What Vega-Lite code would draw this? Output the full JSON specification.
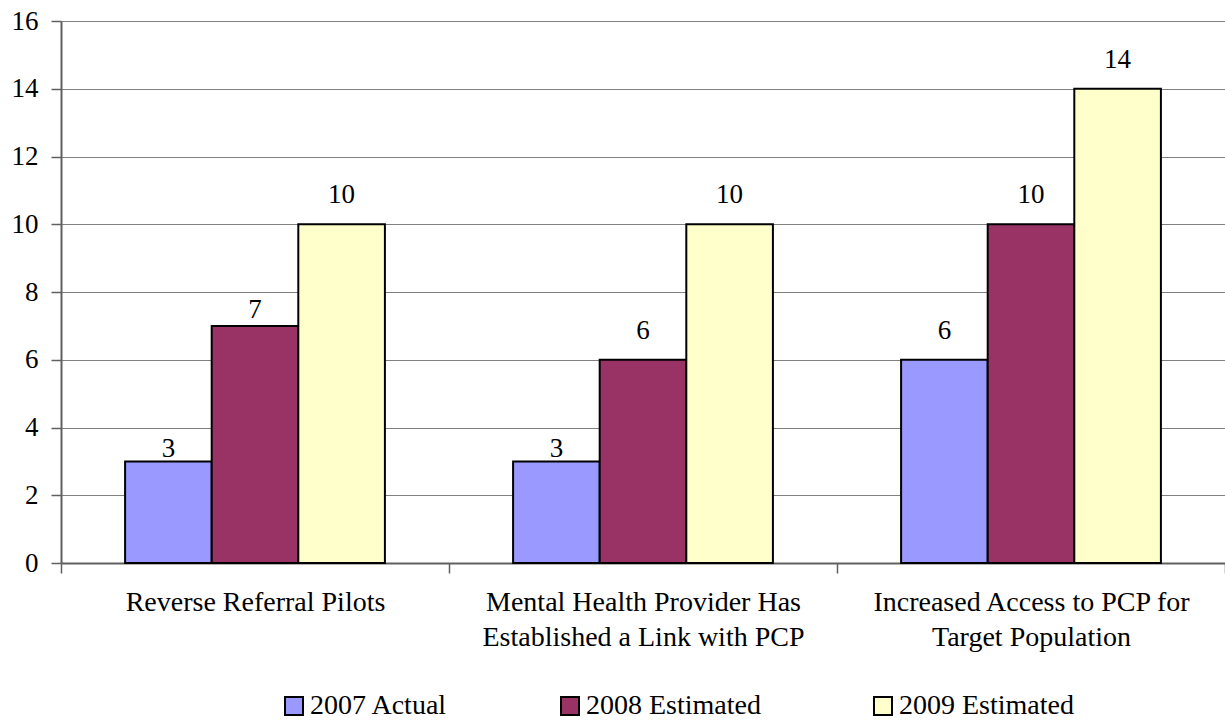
{
  "$schema": "https://vega.github.io/schema/vega-lite/v6.json",
  "autosize": {"type": "none"},
  "width": 1164,
  "height": 542,
  "padding": {"left": 61, "top": 21, "right": 0, "bottom": 158},
  "background": "white",
  "config": {
    "view": {"stroke": null},
    "font": "Liberation Serif",
    "axis": {"labelFont": "Liberation Serif", "labelColor": "black", "labelFontSize": 27},
    "legend": {"labelFont": "Liberation Serif"}
  },
  "data": {
    "values": [
      {"category": "Reverse Referral Pilots", "series": "2007 Actual", "value": 3},
      {"category": "Reverse Referral Pilots", "series": "2008 Estimated", "value": 7},
      {"category": "Reverse Referral Pilots", "series": "2009 Estimated", "value": 10},
      {"category": "Mental Health Provider Has Established a Link with PCP", "series": "2007 Actual", "value": 3},
      {"category": "Mental Health Provider Has Established a Link with PCP", "series": "2008 Estimated", "value": 6},
      {"category": "Mental Health Provider Has Established a Link with PCP", "series": "2009 Estimated", "value": 10},
      {"category": "Increased Access to PCP for Target Population", "series": "2007 Actual", "value": 6},
      {"category": "Increased Access to PCP for Target Population", "series": "2008 Estimated", "value": 10},
      {"category": "Increased Access to PCP for Target Population", "series": "2009 Estimated", "value": 14}
    ]
  },
  "encoding": {
    "x": {
      "field": "category",
      "type": "nominal",
      "sort": null,
      "title": null,
      "scale": {"paddingInner": 0, "paddingOuter": 0},
      "axis": {
        "labelAngle": 0,
        "labelFontSize": 28,
        "tickBand": "extent",
        "tickSize": 10,
        "tickColor": "#606060",
        "tickWidth": 1.5,
        "domainColor": "#606060",
        "domainWidth": 2,
        "labelPadding": 15,
        "labelLineHeight": 35,
        "labelLimit": 600,
        "labelExpr": "datum.value == 'Mental Health Provider Has Established a Link with PCP' ? ['Mental Health Provider Has', 'Established a Link with PCP'] : datum.value == 'Increased Access to PCP for Target Population' ? ['Increased Access to PCP for', 'Target Population'] : datum.value"
      }
    },
    "xOffset": {
      "field": "series",
      "type": "nominal",
      "sort": null,
      "scale": {"paddingInner": 0, "paddingOuter": 0.74}
    },
    "y": {
      "field": "value",
      "type": "quantitative",
      "title": null,
      "scale": {"domain": [0, 16], "nice": false},
      "axis": {
        "values": [0, 2, 4, 6, 8, 10, 12, 14, 16],
        "tickSize": 10,
        "tickColor": "#606060",
        "tickWidth": 1.5,
        "domainColor": "#606060",
        "domainWidth": 2,
        "gridColor": "#808080",
        "gridWidth": 1,
        "labelPadding": 13
      }
    }
  },
  "layer": [
    {
      "mark": {"type": "bar", "stroke": "black", "strokeWidth": 2},
      "encoding": {
        "color": {
          "field": "series",
          "type": "nominal",
          "sort": null,
          "scale": {
            "domain": ["2007 Actual", "2008 Estimated", "2009 Estimated"],
            "range": ["#9999FF", "#993366", "#FFFFCC"]
          },
          "legend": {
            "title": null,
            "orient": "none",
            "legendX": 219,
            "legendY": 671,
            "direction": "horizontal",
            "symbolType": "square",
            "symbolSize": 324,
            "symbolStrokeColor": "black",
            "symbolStrokeWidth": 2,
            "symbolOpacity": 1,
            "labelFontSize": 28,
            "labelColor": "black",
            "labelOffset": 2,
            "columnPadding": 108,
            "labelLimit": 400
          }
        }
      }
    },
    {
      "mark": {
        "type": "text",
        "baseline": "alphabetic",
        "dy": {"expr": "datum.value == 3 ? -4 : datum.value == 7 ? -8 : -21"},
        "fontSize": 27,
        "color": "black"
      },
      "encoding": {"text": {"field": "value", "type": "quantitative"}}
    }
  ]
}
